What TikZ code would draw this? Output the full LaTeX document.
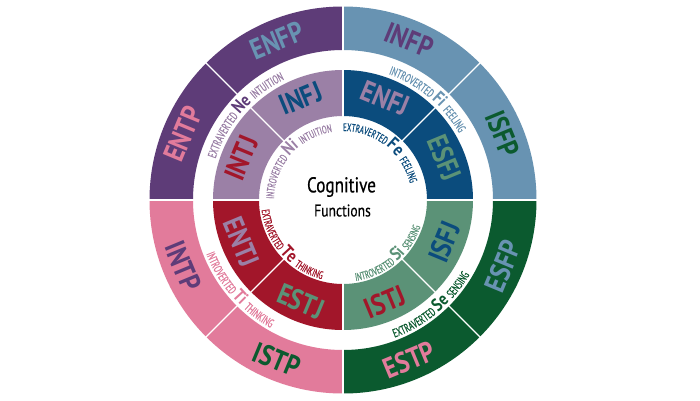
\documentclass[tikz,border=0pt]{standalone}
\usepackage{fontspec}
\setmainfont{PT Sans}
\newfontfamily\cf[FakeStretch=0.82]{PT Sans}
\newfontfamily\cfb[FakeStretch=0.84]{PT Sans Bold}
\newfontfamily\cfs[FakeStretch=0.64,FakeBold=0.6]{PT Sans}
\newfontfamily\cfc[FakeStretch=0.8,FakeBold=0.4]{PT Sans}
\usetikzlibrary{decorations.text}
\definecolor{dp}{HTML}{5E3C78}
\definecolor{lp}{HTML}{9B80A6}
\definecolor{lb}{HTML}{6893B2}
\definecolor{db}{HTML}{0B4C7D}
\definecolor{pk}{HTML}{E27B9B}
\definecolor{dr}{HTML}{A2162A}
\definecolor{dg}{HTML}{0B5A2F}
\definecolor{sg}{HTML}{5B9277}
\newcommand\mysector[5]{\fill[#1] (#2:#4) arc[start angle=#2, end angle=#3, radius=#4] -- (#3:#5) arc[start angle=#3, end angle=#2, radius=#5] -- cycle;}
\newcommand\smf{\cfs\fontsize{12}{12}\selectfont}
\newcommand\smi{\cfs\fontsize{11}{11}\selectfont}
\newcommand\bgf{\cfb\fontsize{18}{18}\selectfont}
\begin{document}
\begin{tikzpicture}[x=1pt,y=1pt,
  lbl/.style={font=\cfb\fontsize{29}{29}\selectfont, inner sep=0pt, anchor=center},
  sep/.style={white, line width=1.3pt},
  qsep/.style={white, line width=2.5pt},
  ctext/.style={inner sep=0pt}]
\useasboundingbox (-343pt,-200pt) rectangle (357pt,200pt);
\fill[white] (-343pt,-200pt) rectangle (357pt,200pt);
% outer ring
\mysector{dp}{90}{180}{150pt}{193.5pt}
\mysector{lb}{0}{90}{150pt}{193.5pt}
\mysector{pk}{180}{270}{150pt}{193.5pt}
\mysector{dg}{270}{360}{150pt}{193.5pt}
% inner ring
\mysector{lp}{90}{180}{84pt}{130pt}
\mysector{db}{0}{90}{84pt}{130pt}
\mysector{dr}{180}{270}{84pt}{130pt}
\mysector{sg}{270}{360}{84pt}{130pt}
% separators
\draw[qsep] (-196pt,0pt) -- (196pt,0pt);
\draw[qsep] (0pt,-196pt) -- (0pt,196pt);
\foreach \a in {45,135,225,315} \draw[sep] (\a:82pt) -- (\a:196pt);
% outer labels
\node[lbl, text=pk, rotate=67.5]  (entp) at (157.5:173pt) {ENTP};
\node[lbl, text=lb, rotate=22.5]  (enfp) at (112.5:173pt) {ENFP};
\node[lbl, text=dp, rotate=-22.5] (infp) at (67.5:173pt) {INFP};
\node[lbl, text=dg, rotate=-67.5] (isfp) at (22.5:173pt) {ISFP};
\node[lbl, text=lb, rotate=67.5]  (esfp) at (-22.5:173pt) {ESFP};
\node[lbl, text=pk, rotate=22.5]  (estp) at (-67.5:173pt) {ESTP};
\node[lbl, text=dg, rotate=-22.5] (istp) at (-112.5:173pt) {ISTP};
\node[lbl, text=dp, rotate=-67.5] (intp) at (-157.5:173pt) {INTP};
% inner labels
\node[lbl, text=dr, rotate=67.5]  (intj) at (157.5:110pt) {INTJ};
\node[lbl, text=db, rotate=22.5]  (infj) at (112.5:110pt) {INFJ};
\node[lbl, text=lp, rotate=-22.5] (enfj) at (67.5:110pt) {ENFJ};
\node[lbl, text=sg, rotate=-67.5] (esfj) at (22.5:110pt) {ESFJ};
\node[lbl, text=db, rotate=67.5]  (isfj) at (-22.5:110pt) {ISFJ};
\node[lbl, text=dr, rotate=22.5]  (istj) at (-67.5:110pt) {ISTJ};
\node[lbl, text=sg, rotate=-22.5] (estj) at (-112.5:110pt) {ESTJ};
\node[lbl, text=lp, rotate=-67.5] (entj) at (-157.5:110pt) {ENTJ};
% gap texts
\path[decorate, decoration={text along path, text align=center,
  text={|\smf\color{lp}|EXTRAVERTED |\bgf\color{dp}|Ne |\smf\color{lp}|INTUITION}}]
  (189:134pt) arc[start angle=189, end angle=89, radius=134pt];
\path[decorate, decoration={text along path, text align=center,
  text={|\smf\color{lb}|INTROVERTED |\bgf\color{lb}|Fi |\smf\color{lb}|FEELING}}]
  (100:134pt) arc[start angle=100, end angle=0, radius=134pt];
\path[decorate, decoration={text along path, text align=center,
  text={|\smf\color{pk}|INTROVERTED |\bgf\color{pk}|Ti |\smf\color{pk}|THINKING}}]
  (171:147pt) arc[start angle=171, end angle=271, radius=147pt];
\path[decorate, decoration={text along path, text align=center,
  text={|\smf\color{dg}|EXTRAVERTED |\bgf\color{dg}|Se |\smf\color{dg}|SENSING}}]
  (260:147pt) arc[start angle=260, end angle=360, radius=147pt];
% inner texts
\path[decorate, decoration={text along path, text align=center,
  text={|\smi\color{lp}|INTROVERTED |\bgf\color{lp}|Ni |\smi\color{lp}|INTUITION}}]
  (219:69pt) arc[start angle=219, end angle=59, radius=69pt];
\path[decorate, decoration={text along path, text align=center,
  text={|\smi\color{db}|EXTRAVERTED |\bgf\color{db}|Fe |\smi\color{db}|FEELING}}]
  (132:69pt) arc[start angle=132, end angle=-28, radius=69pt];
\path[decorate, decoration={text along path, text align=center,
  text={|\smi\color{dr}|EXTRAVERTED |\bgf\color{dr}|Te |\smi\color{dr}|THINKING}}]
  (141:82pt) arc[start angle=141, end angle=301, radius=82pt];
\path[decorate, decoration={text along path, text align=center,
  text={|\smi\color{sg}|INTROVERTED |\bgf\color{sg}|Si |\smi\color{sg}|SENSING}}]
  (230:82pt) arc[start angle=230, end angle=390, radius=82pt];
% center
\node[ctext, font=\cfc\fontsize{21.5}{21.5}\selectfont] (cog) at (-1.5pt,13pt) {Cognitive};
\node[ctext, font=\cfc\fontsize{17}{17}\selectfont] (fun) at (-0.5pt,-10.5pt) {Functions};
\end{tikzpicture}
\end{document}
